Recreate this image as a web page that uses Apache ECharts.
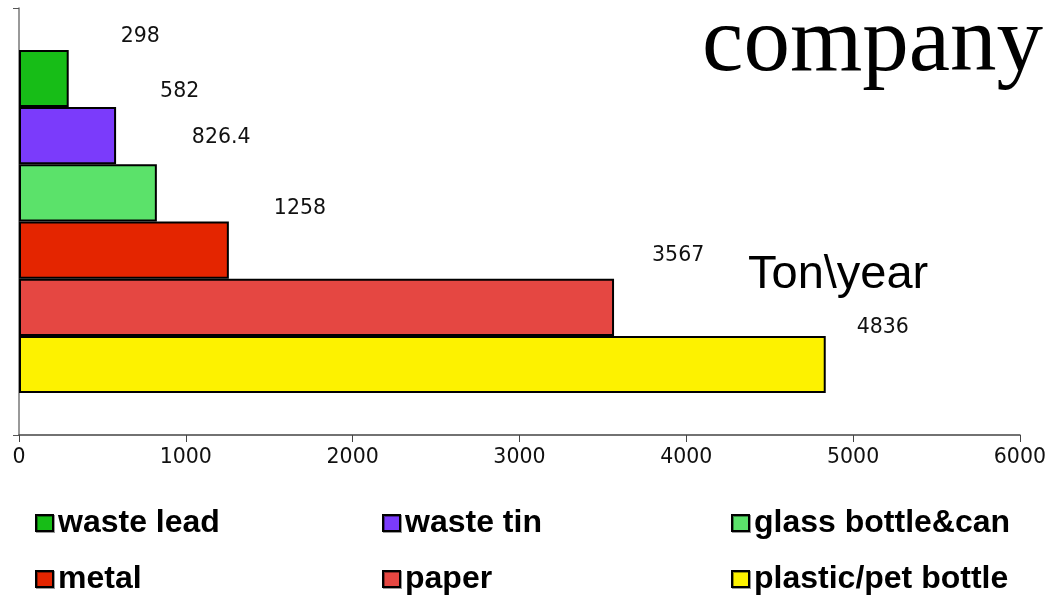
<!DOCTYPE html>
<html>
<head>
<meta charset="utf-8">
<script src="https://cdn.jsdelivr.net/npm/echarts@6/dist/echarts.min.js"></script>
<style>
  html, body { margin: 0; padding: 0; background: #fff; }
  #chart { width: 1049px; height: 596px; }
</style>
</head>
<body>
<div id="chart"></div>
<script>
  // data (ton / year)
  var names = ["waste lead", "waste tin", "glass bottle&can", "metal", "paper", "plastic/pet bottle"];
  var values = [298, 582, 826.4, 1258, 3567, 4836];
  var colors = ["#17bd17", "#7b3bfb", "#5be26a", "#e42500", "#e54742", "#fdf200"];
  var xTicks = [0, 1000, 2000, 3000, 4000, 5000, 6000];

  // label nudges, the labels sit up and right of each bar end
  var labelOffsets = [[47, -42], [39, -44], [30, -55], [40, -41], [33, -52], [26, -37]];
  var legendPos = [[35, 507], [382, 507], [731, 507], [35, 563], [382, 563], [731, 563]];

  var myChart = echarts.init(document.getElementById("chart"));

  var series = names.map(function (n, i) {
    return {
      name: n,
      type: "bar",
      data: [values[i]],
      barWidth: 57.2,
      barGap: "0%",
      itemStyle: {
        color: colors[i],
        borderColor: "#000",
        borderWidth: 2
      },
      label: {
        show: true,
        position: "right",
        distance: 5,
        offset: labelOffsets[i],
        color: "#111",
        fontSize: 20.5,
        fontFamily: "DejaVu Sans"
      }
    };
  });

  var legends = names.map(function (n, i) {
    return {
      data: [{ name: n, icon: "rect" }],
      left: legendPos[i][0],
      top: legendPos[i][1],
      padding: 0,
      itemWidth: 17,
      itemHeight: 16,
      itemGap: 0,
      itemStyle: { borderColor: "#000", borderWidth: 2, shadowColor: "rgba(0,0,0,0.4)", shadowOffsetX: 1, shadowOffsetY: 1 },
      textStyle: {
        fontFamily: "Liberation Sans",
        fontWeight: "bold",
        fontSize: 32,
        color: "#000",
        padding: [0, 0, 0, 0]
      }
    };
  });

  myChart.setOption({
    animation: false,
    backgroundColor: "#fff",
    grid: { left: 19, right: 28, top: 8, bottom: 161, containLabel: false },
    legend: legends,
    xAxis: {
      type: "value",
      min: xTicks[0],
      max: xTicks[xTicks.length - 1],
      interval: 1000,
      splitLine: { show: false },
      axisLine: { show: true, lineStyle: { color: "#444", width: 1.5 } },
      axisTick: { show: true, length: 7, lineStyle: { color: "#444" } },
      axisLabel: {
        margin: 12,
        color: "#111",
        fontSize: 20.5,
        fontFamily: "DejaVu Sans",
        formatter: function (v) { return String(v); }
      }
    },
    yAxis: {
      type: "category",
      data: [""],
      axisLine: { show: true, lineStyle: { color: "#777", width: 1.5 } },
      axisTick: { show: true, length: 6, lineStyle: { color: "#555" } },
      axisLabel: { show: false }
    },
    series: series,
    graphic: [
      {
        type: "text",
        right: 6,
        top: -1,
        style: {
          text: "company",
          fontFamily: "Liberation Serif",
          fontSize: 93,
          fill: "#000"
        }
      },
      {
        type: "text",
        left: 748,
        top: 252,
        style: {
          text: "Ton\\year",
          fontFamily: "Liberation Sans",
          fontSize: 47,
          fill: "#000"
        }
      }
    ]
  });
</script>
</body>
</html>
